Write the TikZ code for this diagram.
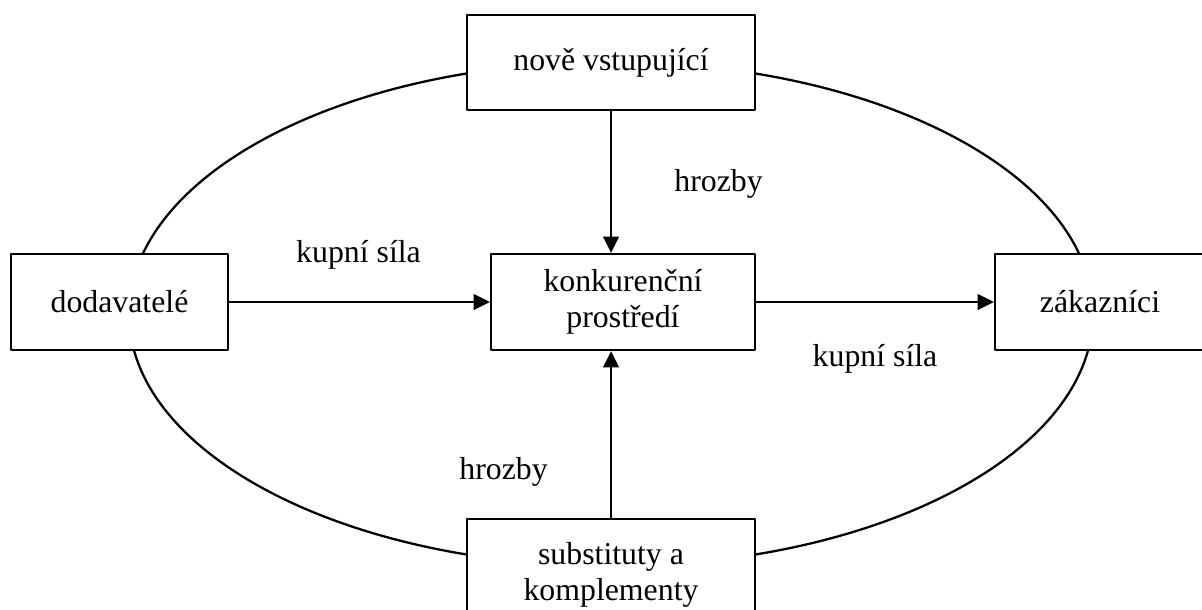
\documentclass[tikz,border=0pt]{standalone}
\usepackage{fontspec}
\setmainfont{Liberation Serif}
\usetikzlibrary{arrows.meta}

\begin{document}
\begin{tikzpicture}[>=stealth, line join=round, line cap=round, every node/.style={font=\fontsize{9.05pt}{10.2pt}\selectfont}, declare function={cx=6.11; cy=3.07;}, box/.style={draw, fill=white, line width=0.65pt, align=center, inner sep=0pt}, sipka/.style={-{Triangle[length=4.6pt, width=4.4pt]}, line width=0.65pt}]
			
			\useasboundingbox (0,0) rectangle (12.02,6.09);
			
			\draw[line width=0.65pt] (cx,2.95) ellipse (4.82 and 2.52);
			
			\node[box, minimum width=2.88cm, minimum height=0.95cm] (nove) at (cx, 5.465) {nově vstupující};
			
			\node[box, minimum width=2.17cm, minimum height=0.96cm] (dodavatele) at (1.195, cy) {dodavatelé};
			
			\node[box, minimum width=2.64cm, minimum height=0.96cm] (konkurence) at (6.23, cy) {konkurenční \\ prostředí};
			
			\node[box, minimum width=2.10cm, minimum height=0.96cm] (zakaznici) at (11.0, cy) {zákazníci};
			
			\node[box, minimum width=2.88cm, minimum height=1.12cm] (substituty) at (cx, 0.34) {substituty a \\ komplementy};
			
			\draw[sipka] (dodavatele) -- (konkurence);
			
			\draw[sipka] (konkurence) -- (zakaznici);
			
			\draw[sipka] (nove) -- (nove |- konkurence.north);
			
			\draw[sipka] (substituty) -- (substituty |- konkurence.south);
			
			\node[anchor=base] (kupni1) at (3.585, 3.46) {kupní síla};
			
			\node[anchor=base] (kupni2) at (8.75, 2.43) {kupní síla};
			
			\node[anchor=base] (hrozby1) at (7.185, 4.17) {hrozby};
			
			\node[anchor=base] (hrozby2) at (5.035, 1.30) {hrozby};
			
		\end{tikzpicture}
\end{document}
